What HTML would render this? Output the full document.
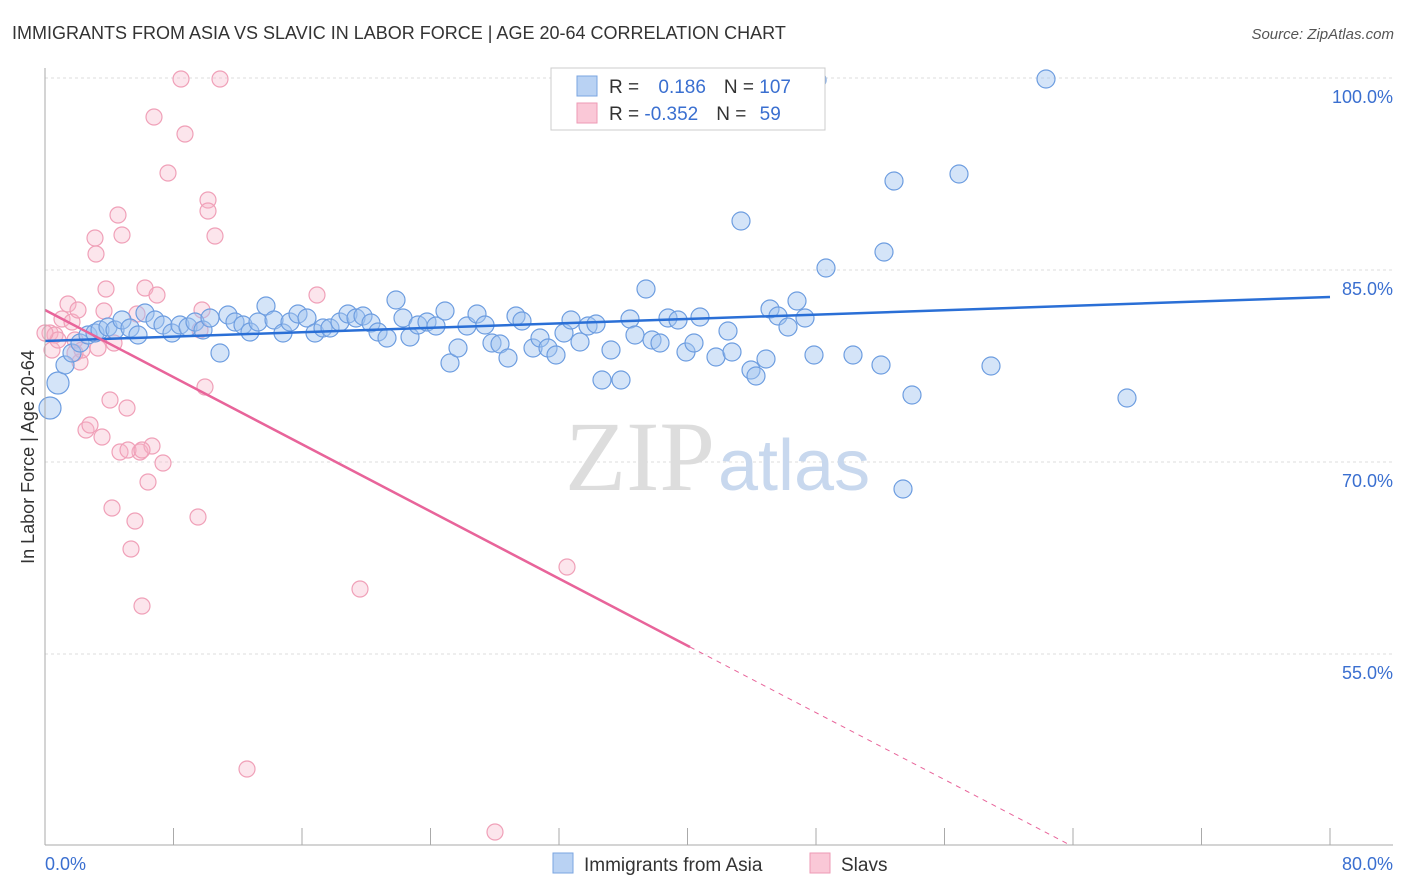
<!DOCTYPE html>
<html><head><meta charset="utf-8"><style>
body{margin:0;background:#fff;font-family:"Liberation Sans",sans-serif}
svg{display:block}
</style></head><body>
<svg width="1406" height="892">
<text x="12" y="39" font-size="18" fill="#333">IMMIGRANTS FROM ASIA VS SLAVIC IN LABOR FORCE | AGE 20-64 CORRELATION CHART</text>
<text x="1394" y="39" font-size="15" fill="#555" font-style="italic" text-anchor="end">Source: ZipAtlas.com</text>
<g id="grid"></g>
<text x="715" y="490" font-size="100" fill="#ddd" font-family="Liberation Serif" text-anchor="end">ZIP</text>
<text x="718" y="490" font-size="72" fill="#c8d8ee">atlas</text>
<g id="pts"></g>
<g id="trend"></g>
<g id="axes"></g>
<text transform="translate(34,457) rotate(-90)" font-size="18" fill="#333" text-anchor="middle">In Labor Force | Age 20-64</text>
<text x="45" y="870" font-size="18" fill="#3a6fd0">0.0%</text>
<text x="1393" y="870" font-size="18" fill="#3a6fd0" text-anchor="end">80.0%</text>
<g>
<rect x="551" y="68" width="274" height="62" fill="#fff" stroke="#ccc"/>
<rect x="577" y="76" width="20" height="20" fill="#b9d2f3" stroke="#7aa5e0"/>
<rect x="577" y="103" width="20" height="20" fill="#fac8d7" stroke="#ee9ab4"/>
<text x="609" y="93" font-size="19" fill="#333">R = <tspan fill="#3a6fd0" dx="14">0.186</tspan><tspan dx="18" fill="#333">N = </tspan><tspan fill="#3a6fd0">107</tspan></text>
<text x="609" y="120" font-size="19" fill="#333">R = <tspan fill="#3a6fd0">-0.352</tspan><tspan dx="18" fill="#333">N = </tspan><tspan fill="#3a6fd0" dx="8">59</tspan></text>
</g>
<g>
<rect x="553" y="853" width="20" height="20" fill="#b9d2f3" stroke="#7aa5e0"/>
<text x="584" y="871" font-size="19" fill="#333">Immigrants from Asia</text>
<rect x="810" y="853" width="20" height="20" fill="#fac8d7" stroke="#ee9ab4"/>
<text x="841" y="871" font-size="19" fill="#333">Slavs</text>
</g>
</svg>
<script>
const blueX=[50,58,65,72,80,88,95,100,108,115,122,130,138,145,155,163,172,180,188,195,203,210,220,228,235,243,250,258,266,274,283,290,298,307,315,323,330,340,348,356,363,371,378,387,396,403,410,418,427,436,445,450,458,467,477,485,492,500,508,516,522,533,540,548,556,564,571,580,588,596,602,611,621,630,635,646,652,660,668,678,686,694,700,716,728,732,741,751,756,766,770,778,788,797,805,814,817,826,853,881,884,894,912,903,959,991,1046,1127];
const blueY=[408,383,365,353,343,335,333,330,327,330,320,328,335,313,320,325,333,325,327,322,330,318,353,315,322,325,332,322,306,320,333,322,314,318,333,328,328,322,314,318,316,323,332,338,300,318,337,325,322,326,311,363,348,326,314,325,343,344,358,316,321,348,338,348,355,333,320,342,326,324,380,350,380,319,335,289,340,343,318,320,352,343,317,357,331,352,221,370,376,359,309,316,327,301,318,355,80,268,355,365,252,181,395,489,174,366,79,398];
const pinkX=[50,52,55,58,62,68,72,75,78,80,82,86,90,95,96,98,102,106,104,110,112,114,118,120,122,127,131,135,137,140,142,145,148,152,154,157,163,168,181,185,198,200,202,205,208,208,215,220,247,317,360,495,567,75,45,128,142];
const pinkY=[333,350,335,340,319,304,322,340,310,362,350,430,425,238,254,348,437,289,311,400,508,343,215,452,235,408,549,521,314,452,606,288,482,446,117,295,463,173,79,134,517,330,310,387,200,211,236,79,769,295,589,832,567,353,333,450,450];
// convert pixel reads to data values
const X0=45,X1=1330,Y100=78,PPP=12.8;
const xv=p=>(p-X0)/(X1-X0)*80, yv=p=>100-(p-Y100)/PPP;
const asiaX=blueX.map(xv), asiaY=blueY.map(yv), slavX=pinkX.map(xv), slavY=pinkY.map(yv);
const sx=v=>X0+v/80*(X1-X0), sy=v=>Y100+(100-v)*PPP;
const NS="http://www.w3.org/2000/svg";
function mk(tag,at,parent){const e=document.createElementNS(NS,tag);for(const k in at)e.setAttribute(k,at[k]);parent.appendChild(e);return e;}
const grid=document.getElementById('grid');
const yTicks=[100,85,70,55];
yTicks.forEach(t=>{
 const l=mk('line',{x1:45,x2:1393,y1:sy(t),y2:sy(t),stroke:'#ddd','stroke-dasharray':'3,3'},grid);
 
 
 const tx=mk('text',{x:1393,y:sy(t)+25,'font-size':18,fill:'#3a6fd0','text-anchor':'end'},grid);
 tx.textContent=t.toFixed(1)+'%';
 
 
});
const axes=document.getElementById('axes');
mk('line',{x1:45,x2:45,y1:68,y2:845,stroke:'#aaa'},axes);
mk('line',{x1:45,x2:1393,y1:845,y2:845,stroke:'#aaa'},axes);
for(let i=0;i<=10;i++){const x=sx(i*8);const t=mk('line',{x1:x,x2:x,y1:828,y2:845,stroke:'#aaa'},axes);
 
 }
const pts=document.getElementById('pts');
slavX.forEach((v,i)=>{const c=mk('circle',{cx:sx(v),cy:sy(slavY[i]),r:8,fill:'rgba(247,180,200,0.35)',stroke:'#f0a0b8','stroke-width':1.2},pts);
 
 });
asiaX.forEach((v,i)=>{const r=i<2?11:9;const c=mk('circle',{cx:sx(v),cy:sy(asiaY[i]),r:r,fill:'rgba(160,195,240,0.45)',stroke:'#6d9de0','stroke-width':1.2},pts);
 
 });
const tr=document.getElementById('trend');
const b=mk('line',{x1:45,y1:341,x2:1330,y2:297,stroke:'#2a6fd6','stroke-width':2.5},tr);


const p=mk('line',{x1:45,y1:310,x2:690,y2:647,stroke:'#e8649a','stroke-width':2.5},tr);


const pd=mk('line',{x1:690,y1:647,x2:1070,y2:845,stroke:'#e8649a','stroke-width':1,'stroke-dasharray':'5,5'},tr);


</script>
</body></html>
